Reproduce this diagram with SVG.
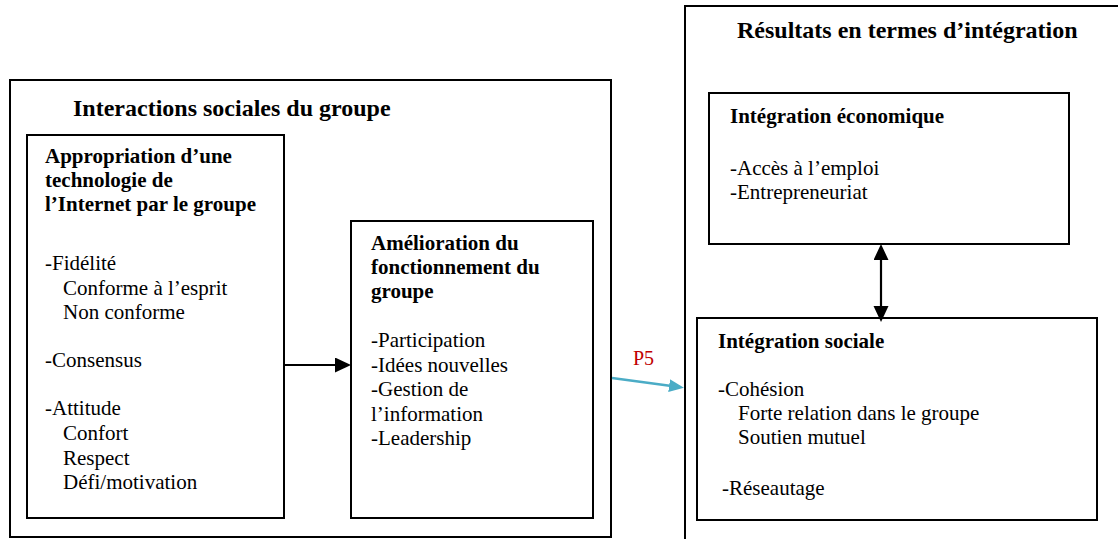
<svg xmlns="http://www.w3.org/2000/svg" width="1118" height="539" viewBox="0 0 1118 539">
  <style>
    .box { fill: #ffffff; stroke: #000000; stroke-width: 2; }
    .title { font-family: "Liberation Serif", "Times New Roman", serif; font-size: 24px; font-weight: bold; fill: #000; }
    .head { font-family: "Liberation Serif", "Times New Roman", serif; font-size: 21px; font-weight: bold; fill: #000; }
    .body { font-family: "Liberation Serif", "Times New Roman", serif; font-size: 21px; fill: #000; }
    .p5 { font-family: "Liberation Serif", "Times New Roman", serif; font-size: 20px; fill: #C00000; }
    .link { stroke: #000; stroke-width: 2.2; fill: none; }
    .link-blue { stroke: #4BACC6; stroke-width: 2.5; fill: none; }
  </style>
  <defs>
    <marker id="arrow-black" markerUnits="userSpaceOnUse" markerWidth="16" markerHeight="16" refX="10" refY="7.5" orient="auto-start-reverse">
      <path d="M0,0 L16,7.5 L0,15 z" fill="#000"/>
    </marker>
    <marker id="arrow-blue" markerUnits="userSpaceOnUse" markerWidth="16" markerHeight="14" refX="10" refY="6.5" orient="auto">
      <path d="M0,0 L15,6.5 L0,13 z" fill="#4BACC6"/>
    </marker>
  </defs>

  <rect width="1118" height="539" fill="#ffffff"/>

  <!-- Group interactions container -->
  <g id="interactions">
    <rect class="box" x="10" y="80" width="601" height="457"/>
    <text class="title" x="73" y="116">Interactions sociales du groupe</text>
  </g>

  <g id="appropriation">
    <rect class="box" x="27" y="135" width="257" height="383"/>
    <text class="head" x="45" y="163">Appropriation d’une</text>
    <text class="head" x="45" y="187">technologie de</text>
    <text class="head" x="45" y="211">l’Internet par le groupe</text>
    <text class="body" x="45" y="270">-Fidélité</text>
    <text class="body" x="63" y="294.5">Conforme à l’esprit</text>
    <text class="body" x="63" y="319">Non conforme</text>
    <text class="body" x="45" y="367">-Consensus</text>
    <text class="body" x="45" y="415">-Attitude</text>
    <text class="body" x="63" y="440">Confort</text>
    <text class="body" x="63" y="464.5">Respect</text>
    <text class="body" x="63" y="489">Défi/motivation</text>
  </g>

  <g id="amelioration">
    <rect class="box" x="351" y="221" width="242" height="297"/>
    <text class="head" x="371" y="250">Amélioration du</text>
    <text class="head" x="371" y="274">fonctionnement du</text>
    <text class="head" x="371" y="298">groupe</text>
    <text class="body" x="371" y="347">-Participation</text>
    <text class="body" x="371" y="371.5">-Idées nouvelles</text>
    <text class="body" x="371" y="396">-Gestion de</text>
    <text class="body" x="371" y="420.5">l’information</text>
    <text class="body" x="371" y="445">-Leadership</text>
  </g>

  <!-- Integration outcomes container (runs past the right and bottom edges) -->
  <g id="resultats">
    <rect class="box" x="685" y="6" width="500" height="600"/>
    <text class="title" x="737" y="38">Résultats en termes d’intégration</text>
  </g>

  <g id="integration-economique">
    <rect class="box" x="709" y="93" width="360" height="151"/>
    <text class="head" x="730" y="123">Intégration économique</text>
    <text class="body" x="730" y="175">-Accès à l’emploi</text>
    <text class="body" x="730" y="199">-Entrepreneuriat</text>
  </g>

  <g id="integration-sociale">
    <rect class="box" x="697" y="318" width="400" height="202"/>
    <text class="head" x="718" y="348">Intégration sociale</text>
    <text class="body" x="718" y="396">-Cohésion</text>
    <text class="body" x="738" y="420">Forte relation dans le groupe</text>
    <text class="body" x="738" y="444">Soutien mutuel</text>
    <text class="body" x="722" y="495">-Réseautage</text>
  </g>

  <g id="connectors">
    <line class="link" x1="284" y1="365" x2="345" y2="365" marker-end="url(#arrow-black)"/>
    <line class="link" x1="881" y1="250" x2="881" y2="316" marker-start="url(#arrow-black)" marker-end="url(#arrow-black)"/>
    <line class="link-blue" x1="612" y1="378" x2="679" y2="387" marker-end="url(#arrow-blue)"/>
    <text class="p5" x="633" y="365">P5</text>
  </g>
</svg>
